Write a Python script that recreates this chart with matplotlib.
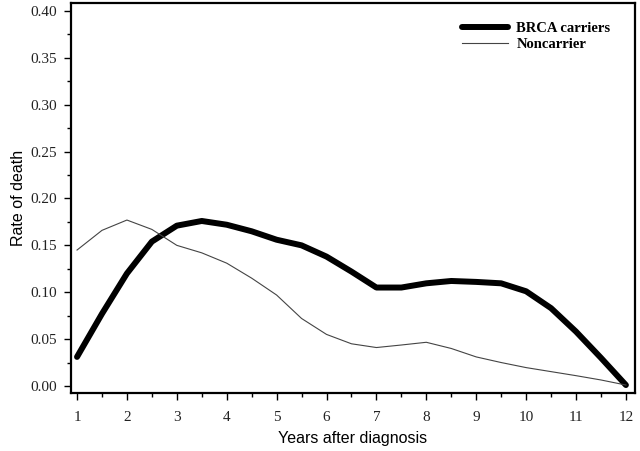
import matplotlib
matplotlib.use("Agg")
import matplotlib.pyplot as plt
from matplotlib.ticker import MultipleLocator, FormatStrFormatter

# years after diagnosis (half-year steps)
years = [1, 1.5, 2, 2.5, 3, 3.5, 4, 4.5, 5, 5.5, 6, 6.5,
         7, 7.5, 8, 8.5, 9, 9.5, 10, 10.5, 11, 11.5, 12]

brca = [0.031, 0.077, 0.120, 0.154, 0.171, 0.176, 0.172, 0.165, 0.156, 0.150, 0.138, 0.122,
        0.105, 0.105, 0.1095, 0.112, 0.111, 0.1095, 0.101, 0.083, 0.058, 0.030, 0.001]

noncarrier = [0.145, 0.166, 0.177, 0.167, 0.150, 0.142, 0.131, 0.115, 0.097, 0.072, 0.055, 0.045,
              0.041, 0.0437, 0.0466, 0.040, 0.031, 0.025, 0.0196, 0.0153, 0.011, 0.0064, 0.001]

xticks = list(range(1, 13))

fig = plt.figure(figsize=(6.4, 4.51), dpi=100)
ax = fig.add_axes([0.111, 0.1286, 0.881, 0.8647])

ax.plot(years, brca, color="black", lw=4.3, solid_capstyle="round",
        solid_joinstyle="round", label="BRCA carriers")
ax.plot(years, noncarrier, color="#444444", lw=0.8, label="Noncarrier")

ax.set_xlim(0.88, 12.18)
ax.set_ylim(-0.0075, 0.4085)
ax.set_xticks(xticks)
ax.xaxis.set_minor_locator(MultipleLocator(0.5))
ax.yaxis.set_major_locator(MultipleLocator(0.05))
ax.yaxis.set_minor_locator(MultipleLocator(0.025))
ax.yaxis.set_major_formatter(FormatStrFormatter("%.2f"))

for s in ax.spines.values():
    s.set_linewidth(1.6)

ax.tick_params(which="major", direction="out", length=5, width=1, labelsize=10, pad=5)
ax.tick_params(which="minor", direction="out", length=3, width=1)
ax.tick_params(axis="x", which="major", pad=8)
for lab in ax.get_xticklabels() + ax.get_yticklabels():
    lab.set_family("Liberation Serif")
    lab.set_color("#222222")
    lab.set_fontsize(11)

ax.set_xlabel("Years after diagnosis", family="Liberation Sans", fontsize=11.5)
ax.set_ylabel("Rate of death", family="Liberation Sans", fontsize=11.5)
ax.xaxis.set_label_coords(0.5, -0.098)
ax.yaxis.set_label_coords(-0.08, 0.5)

ax.legend(loc="upper left", bbox_to_anchor=(0.68, 0.97), frameon=False,
          borderpad=0, handlelength=3.2, handletextpad=0.55, labelspacing=0.15,
          prop={"family": "Liberation Serif", "weight": "bold", "size": 10.5})

fig.savefig("out.png", dpi=100)
